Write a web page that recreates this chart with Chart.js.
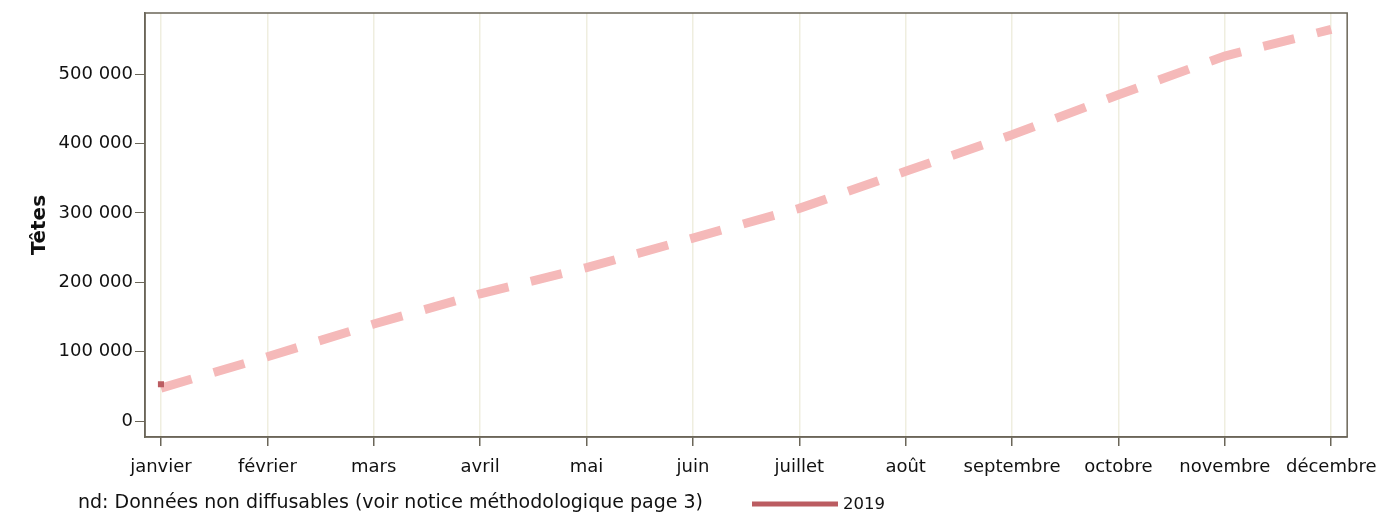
<!DOCTYPE html>
<html>
<head>
<meta charset="utf-8">
<script src="https://cdn.jsdelivr.net/npm/chart.js@4.4.1/dist/chart.umd.min.js"></script>
<style>
  html, body { margin: 0; padding: 0; background: #fff; }
  #wrap { width: 1388px; height: 515px; }
</style>
</head>
<body>
<div id="wrap"><canvas id="tetesChart" width="1388" height="515"></canvas></div>
<script>
// données
const months = ['janvier', 'février', 'mars', 'avril', 'mai', 'juin', 'juillet',
                'août', 'septembre', 'octobre', 'novembre', 'décembre'];
const cumulRef = [47500, 92600, 139800, 183400, 221000, 263700, 306500,
                  359800, 412500, 470200, 526000, 564400];
const serie2019 = [53000, null, null, null, null, null, null, null, null, null, null, null];
const yTicks = [0, 100000, 200000, 300000, 400000, 500000];
const footnote = 'nd: Données non diffusables (voir notice méthodologique page 3)';

const FONT = 'DejaVu Sans';
const AXIS = '#6b6658';
const GRID = '#efeedf';
const RED = '#bb5c61';
const PINK = '#f5b9b9';

function fmt(v) {
    return String(v).replace(/\B(?=(\d{3})+(?!\d))/g, ' ');
}

// cadre + note de bas de page + légende
const extras = {
    id: 'extras',
    afterDraw(chart) {
        const { ctx, chartArea: a } = chart;
        ctx.save();
        ctx.strokeStyle = AXIS;
        ctx.lineWidth = 1.5;
        ctx.strokeRect(a.left, a.top, a.right - a.left, a.bottom - a.top);

        ctx.fillStyle = '#111';
        ctx.font = '19px "' + FONT + '"';
        ctx.textBaseline = 'middle';
        ctx.fillText(footnote, 78, 503);

        ctx.strokeStyle = RED;
        ctx.lineWidth = 5;
        ctx.beginPath();
        ctx.moveTo(752, 504);
        ctx.lineTo(838, 504);
        ctx.stroke();
        ctx.font = '16.5px "' + FONT + '"';
        ctx.fillText('2019', 843, 505);
        ctx.restore();
    }
};

new Chart(document.getElementById('tetesChart').getContext('2d'), {
    type: 'line',
    data: {
        datasets: [
            {
                label: '2019',
                data: serie2019.map((v, i) => ({ x: i, y: v })),
                borderColor: RED,
                backgroundColor: RED,
                borderWidth: 5,
                pointStyle: 'rect',
                pointRadius: 4.3,
                pointBorderWidth: 0,
                spanGaps: false
            },
            {
                label: 'cumul',
                data: cumulRef.map((v, i) => ({ x: i, y: v })),
                borderColor: PINK,
                borderWidth: 9,
                borderDash: [32, 23],
                pointRadius: 0,
                tension: 0,
                fill: false
            }
        ]
    },
    options: {
        responsive: false,
        animation: false,
        layout: { padding: { left: 0, right: 40, top: 13, bottom: 0 } },
        plugins: {
            legend: { display: false },
            tooltip: { enabled: false }
        },
        scales: {
            x: {
                type: 'linear',
                min: -0.15,
                max: 11.15,
                afterBuildTicks: s => { s.ticks = months.map((_, i) => ({ value: i })); },
                afterFit: s => { s.height = 78; },
                ticks: {
                    callback: v => months[v],
                    color: '#111',
                    font: { family: FONT, size: 18 },
                    padding: 11,
                    maxRotation: 0,
                    autoSkip: false
                },
                grid: {
                    color: GRID,
                    lineWidth: 1.5,
                    tickColor: AXIS,
                    tickLength: 9,
                    drawOnChartArea: true
                },
                border: { color: AXIS, width: 1.5 }
            },
            y: {
                min: -23000,
                max: 588000,
                afterBuildTicks: s => { s.ticks = yTicks.map(v => ({ value: v })); },
                afterFit: s => { s.width = 145; },
                ticks: {
                    callback: v => fmt(v),
                    color: '#111',
                    font: { family: FONT, size: 18 },
                    padding: 2
                },
                grid: {
                    drawOnChartArea: false,
                    tickColor: AXIS,
                    tickLength: 10
                },
                border: { color: AXIS, width: 1.5 },
                title: {
                    display: true,
                    text: 'Têtes',
                    color: '#111',
                    font: { family: FONT, size: 20, weight: 'bold' },
                    padding: { top: 28, bottom: 0 }
                }
            }
        }
    },
    plugins: [extras]
});
</script>
</body>
</html>
